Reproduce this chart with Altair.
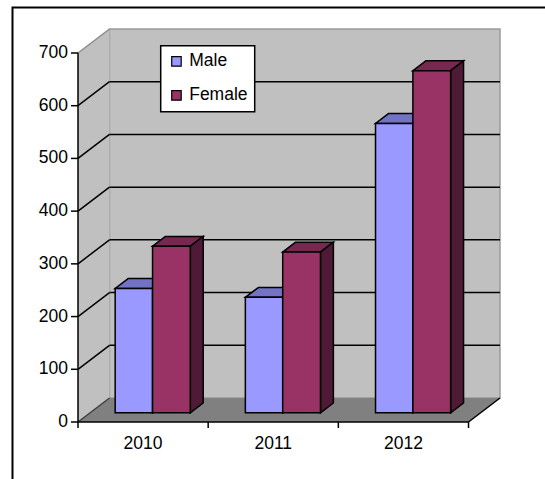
import altair as alt
import pandas as pd

# ---- data ----
years = ["2010", "2011", "2012"]
male = [236, 219, 549]
female = [316, 305, 649]
series = ["Male", "Female"]
y_ticks = [0, 100, 200, 300, 400, 500, 600, 700]
x_ticks = [0, 1, 2, 3]

front_colors = ["#9999FF", "#993366"]
top_colors = {"Male": "#7373C6", "Female": "#772850"}
side_colors = {"Male": "#4D4D80", "Female": "#4E1A35"}

# ---- 3D frame geometry (style constants) ----
YMAX = 700
DXU = 0.2419   # full depth, x in category units
DYV = 45.5     # full depth, y in value units
F0 = 0.383     # depth of bar front plane (fraction of full depth)
BD = 0.41      # bar depth (fraction of full depth)
W, H = 422, 393
FONT = "Liberation Sans"
FS = 17.5

xs = alt.Scale(domain=[0, 3 + DXU], nice=False, zero=False)
ys = alt.Scale(domain=[0, YMAX + DYV], nice=False, zero=False)
X = lambda f: alt.X(f, scale=xs, axis=None)
Y = lambda f: alt.Y(f, scale=ys, axis=None)

# bars
fr, tp, sd = [], [], []
for i, yr in enumerate(years):
    for s, vals, a, b in (("Male", male, 0.193, 0.48), ("Female", female, 0.48, 0.77)):
        v = vals[i]
        bid = f"{yr}-{s}"
        x1, x2 = i + a, i + b
        fr.append(dict(series=s, x=x1 + F0 * DXU, x2=x2 + F0 * DXU, y=F0 * DYV, y2=v + F0 * DYV))
        for d in (F0, F0 + BD):
            tp.append(dict(bar=bid, col=top_colors[s], y=v + d * DYV, x=x1 + d * DXU, x2=x2 + d * DXU))
            sd.append(dict(bar=bid, col=side_colors[s], x=x2 + d * DXU, y=d * DYV, y2=v + d * DYV))
front_df, top_df, side_df = pd.DataFrame(fr), pd.DataFrame(tp), pd.DataFrame(sd)

wall_df = pd.DataFrame({"x": [DXU], "x2": [3 + DXU], "y": [DYV], "y2": [YMAX + DYV]})
sidewall_df = pd.DataFrame({"x": [0, DXU], "y": [0, DYV], "y2": [YMAX, YMAX + DYV]})
floor_df = pd.DataFrame({"y": [0, DYV], "x": [0, DXU], "x2": [3, 3 + DXU]})
grid_df = pd.DataFrame({"y": [v + DYV for v in y_ticks[1:-1]], "x": DXU, "x2": 3 + DXU})
diag_df = pd.DataFrame({
    "x": 0.0, "x2": DXU,
    "y": y_ticks, "y2": [v + DYV for v in y_ticks],
    "c": ["#404040"] + ["black"] * (len(y_ticks) - 2) + ["#8c8c8c"],
})
edge_df = pd.DataFrame({
    "x": [0, 0, 3], "x2": [0, 3, 3 + DXU],
    "y": [0, 0, 0], "y2": [YMAX, 0, DYV],
})
lab_df = pd.DataFrame({"year": years, "pos": [i + 0.5 for i in range(len(years))]})
ytick_df = pd.DataFrame({"v": y_ticks, "t": [str(v) for v in y_ticks]})
xtick_df = pd.DataFrame({"p": x_ticks})

border = alt.Chart(pd.DataFrame({"a": [0]})).mark_rect(
    fill="white", stroke="black", strokeWidth=2
).encode(x=alt.value(-65.5), x2=alt.value(480), y=alt.value(-21.5), y2=alt.value(470))

wall = alt.Chart(wall_df).mark_rect(fill="#C0C0C0", stroke="#9A9A9A", strokeWidth=1.5).encode(
    x=X("x:Q"), x2="x2:Q", y=Y("y:Q"), y2="y2:Q",
)

sidewall = alt.Chart(sidewall_df).mark_area(fill="#C0C0C0", orient="vertical").encode(
    x=X("x:Q"), y=Y("y:Q"), y2="y2:Q",
)

floor = alt.Chart(floor_df).mark_area(fill="#808080", orient="horizontal").encode(
    y=Y("y:Q"), x=X("x:Q"), x2="x2:Q",
)

grid = alt.Chart(grid_df).mark_rule(color="black", strokeWidth=1.5).encode(
    x=X("x:Q"), x2="x2:Q", y=Y("y:Q"),
)

diag = alt.Chart(diag_df).mark_rule(strokeWidth=1.5).encode(
    x=X("x:Q"), x2="x2:Q", y=Y("y:Q"), y2="y2:Q",
    color=alt.Color("c:N", scale=None),
)

edges = alt.Chart(edge_df).mark_rule(color="black", strokeWidth=1.5).encode(
    x=X("x:Q"), x2="x2:Q", y=Y("y:Q"), y2="y2:Q",
)

yticks = alt.Chart(ytick_df).mark_rule(color="black", strokeWidth=1.5).encode(
    x=alt.value(-7), x2=alt.value(0), y=Y("v:Q"),
)
ylabels = alt.Chart(ytick_df).mark_text(fontSize=FS, font=FONT, color="black", align="right",
                                        baseline="middle").encode(
    x=alt.value(-10), y=Y("v:Q"), text="t:N",
)
xticks = alt.Chart(xtick_df).mark_rule(color="black", strokeWidth=1.5).encode(
    x=X("p:Q"), y=alt.value(H), y2=alt.value(H + 6),
)

tops = alt.Chart(top_df).mark_area(orient="horizontal", stroke="black", strokeWidth=1.5,
                                   strokeJoin="miter").encode(
    y=Y("y:Q"), x=X("x:Q"), x2="x2:Q",
    detail="bar:N",
    fill=alt.Fill("col:N", scale=None),
)

sides = alt.Chart(side_df).mark_area(orient="vertical", stroke="black", strokeWidth=1.5,
                                     strokeJoin="miter").encode(
    x=X("x:Q"), y=Y("y:Q"), y2="y2:Q",
    detail="bar:N",
    fill=alt.Fill("col:N", scale=None),
)

fronts = alt.Chart(front_df).mark_rect(stroke="black", strokeWidth=1.5).encode(
    x=X("x:Q"), x2="x2:Q", y=Y("y:Q"), y2="y2:Q",
    color=alt.Color("series:N", scale=alt.Scale(domain=series, range=front_colors),
                    legend=alt.Legend(title=None, orient="none", legendX=82.7, legendY=16.7,
                                      symbolType="square", symbolSize=90,
                                      symbolStrokeColor="black", symbolStrokeWidth=1.2,
                                      labelFontSize=FS, labelFont=FONT, labelColor="black",
                                      rowPadding=15, labelOffset=4, padding=7,
                                      fillColor="white", strokeColor="black")),
)

labels = alt.Chart(lab_df).mark_text(fontSize=FS, font=FONT, color="black").encode(
    x=X("pos:Q"),
    y=alt.value(415),
    text="year:N",
)

chart = alt.layer(border, wall, sidewall, floor, grid, diag, edges, yticks, ylabels, xticks,
                  tops, sides, fronts, labels).properties(
    width=W, height=H,
    autosize=alt.AutoSizeParams(type="none"),
    padding={"left": 78, "top": 29, "right": 45, "bottom": 57},
    background="white",
).configure_view(stroke=None).configure_legend(strokeWidth=1.5)

chart.save("out.html", embed_options={"renderer": "svg", "actions": False})
